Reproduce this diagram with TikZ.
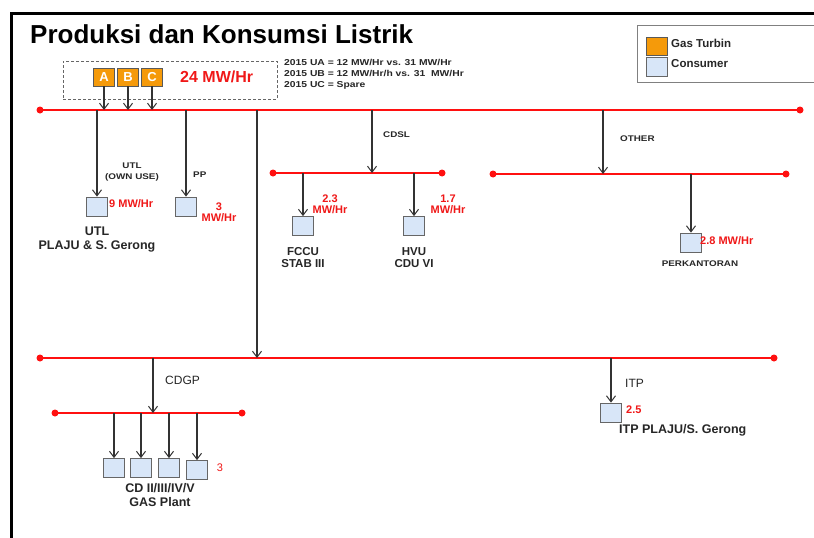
\documentclass[tikz,border=0pt]{standalone}
\usepackage{fontspec}
\setmainfont{Liberation Sans}
\newfontfamily\widesans[FakeStretch=1.2]{Liberation Sans}
\usetikzlibrary{arrows.meta}
\definecolor{busred}{HTML}{FF1010}
\definecolor{lblred}{HTML}{F01818}
\definecolor{consfill}{HTML}{D8E6F8}
\definecolor{gtfill}{HTML}{F59A0A}
\definecolor{linegray}{HTML}{333333}
\newcommand{\myfs}[2]{\fontsize{#1}{#2}\selectfont}
\begin{document}
\begin{tikzpicture}[x=1pt,y=-1pt,
  bus/.style={busred, line width=2pt},
  busdot/.style={circle, fill=busred, inner sep=0pt, minimum size=7pt},
  feed/.style={linegray, line width=1.2pt, -{Straight Barb[length=6pt,width=9pt,line width=1pt]}},
  cons/.style={draw=black!60, fill=consfill, line width=0.8pt, minimum width=21pt, minimum height=19pt, inner sep=0pt},
  gt/.style={draw=black!65, fill=gtfill, line width=0.8pt, minimum width=21pt, minimum height=18pt, inner sep=0pt, text=white, font=\bfseries\myfs{13}{13}},
  lbl/.style={text=black!85, inner sep=0pt},
  small/.style={lbl, font=\widesans\bfseries\myfs{8.2}{11}},
  big/.style={lbl, font=\bfseries\myfs{12.5}{14}, align=center},
  val/.style={text=lblred, font=\bfseries\myfs{11}{11}, inner sep=0pt, align=center},
]
\useasboundingbox (0,0) rectangle (814,538);
\clip (0,0) rectangle (814,538);
\fill[white] (0,0) rectangle (814,538);

% frame
\draw[line width=3pt] (11.5,545) -- (11.5,13.5) -- (830,13.5);

% title
\node[anchor=base west, inner sep=0pt, font=\bfseries\myfs{26}{26}] (title) at (30,43) {Produksi dan Konsumsi Listrik};

% legend
\node[draw=black!50, line width=1pt, minimum width=200pt, minimum height=57pt, inner sep=0pt] (legend) at (737,53.5) {};
\node[gt, minimum height=18pt] (lgt) at (657,46) {};
\node[cons] (lcons) at (657,66.5) {};
\node[lbl, anchor=west, font=\bfseries\myfs{11.5}{11.5}] (lgttxt) at (671,43) {Gas Turbin};
\node[lbl, anchor=west, font=\bfseries\myfs{11.5}{11.5}] (lconstxt) at (671,64) {Consumer};

% gas turbines
\node[draw=black!60, dashed, dash pattern=on 3pt off 2pt, line width=0.9pt, minimum width=214pt, minimum height=38pt, inner sep=0pt] (gtbox) at (170,80) {};
\node[gt] (A) at (104,77) {A};
\node[gt] (B) at (128,77) {B};
\node[gt] (C) at (152,77) {C};
\node[val, font=\bfseries\myfs{16}{16}, anchor=west] (gtval) at (180,77) {24 MW/Hr};
\node[lbl, anchor=west, align=left, font=\widesans\bfseries\myfs{8.6}{11}] (notes) at (284,74) {2015 UA = 12 MW/Hr vs. 31 MW/Hr\\2015 UB = 12 MW/Hr/h vs. 31\ \ MW/Hr\\2015 UC = Spare};

% bus 1
\node[busdot] (b1w) at (40,110) {};
\node[busdot] (b1e) at (800,110) {};
\draw[bus] (b1w.center) -- (b1e.center);
\draw[feed] (A.south) -- (A |- b1w.center);
\draw[feed] (B.south) -- (B |- b1w.center);
\draw[feed] (C.south) -- (C |- b1w.center);

% UTL and PP
\node[cons] (utl) at (97,206.5) {};
\node[cons] (pp) at (186,206.5) {};
\draw[feed] (utl |- b1w.center) -- (utl.north);
\draw[feed] (pp |- b1w.center) -- (pp.north);
\node[small, align=center] (utltxt) at (132,172.5) {UTL\\(OWN USE)};
\node[small, anchor=west] (pptxt) at (193,175) {PP};
\node[val, anchor=west] (utlval) at (109,204) {9 MW/Hr};
\node[val] (ppval) at (219,212) {3\\MW/Hr};
\node[big] (utlname) at (97,240) {UTL\\PLAJU \& S. Gerong};

% trunk to bus 2
\node[busdot] (b2w) at (40,358) {};
\node[busdot] (b2e) at (774,358) {};
\draw[bus] (b2w.center) -- (b2e.center);
\coordinate (trunk) at (257,110);
\draw[feed] (trunk) -- (trunk |- b2w.center);

% CDSL
\node[busdot] (s1w) at (273,173) {};
\node[busdot] (s1e) at (442,173) {};
\draw[bus] (s1w.center) -- (s1e.center);
\coordinate (cdsl) at (372,110);
\draw[feed] (cdsl) -- (cdsl |- s1w.center);
\node[small, anchor=west] (cdsltxt) at (383,135) {CDSL};
\node[cons] (fccu) at (303,226) {};
\node[cons] (hvu) at (414,226) {};
\draw[feed] (fccu |- s1w.center) -- (fccu.north);
\draw[feed] (hvu |- s1w.center) -- (hvu.north);
\node[val] (fccuval) at (330,204.5) {2.3\\MW/Hr};
\node[val] (hvuval) at (448,204.5) {1.7\\MW/Hr};
\node[lbl, font=\bfseries\myfs{11.5}{11.5}, align=center] (fccutxt) at (303,257.5) {FCCU\\STAB III};
\node[lbl, font=\bfseries\myfs{11.5}{11.5}, align=center] (hvutxt) at (414,257.5) {HVU\\CDU VI};

% OTHER
\node[busdot] (s2w) at (493,174) {};
\node[busdot] (s2e) at (786,174) {};
\draw[bus] (s2w.center) -- (s2e.center);
\coordinate (other) at (603,110);
\draw[feed] (other) -- (other |- s2w.center);
\node[small, anchor=west] (othertxt) at (620,139) {OTHER};
\node[cons] (perk) at (691,242.5) {};
\draw[feed] (perk |- s2w.center) -- (perk.north);
\node[val, anchor=west] (perkval) at (700,241) {2.8 MW/Hr};
\node[small] (perktxt) at (700,264) {PERKANTORAN};

% CDGP
\node[busdot] (s3w) at (55,413) {};
\node[busdot] (s3e) at (242,413) {};
\draw[bus] (s3w.center) -- (s3e.center);
\coordinate (cdgp) at (153,358);
\draw[feed] (cdgp) -- (cdgp |- s3w.center);
\node[lbl, anchor=west, font=\myfs{12}{12}] (cdgptxt) at (165,380) {CDGP};
\node[cons] (g1) at (114,468) {};
\node[cons] (g2) at (141,468) {};
\node[cons] (g3) at (169,468) {};
\node[cons] (g4) at (197,470) {};
\foreach \g in {g1,g2,g3,g4}{
  \draw[feed] (\g |- s3w.center) -- (\g.north);
}
\node[val, font=\myfs{11}{11}] (gval) at (220,468) {3};
\node[big] (gtxt) at (160,495) {CD II/III/IV/V\\GAS Plant};

% ITP
\node[cons] (itpb) at (611,412.5) {};
\draw[feed] (itpb |- b2w.center) -- (itpb.north);
\node[lbl, anchor=west, font=\myfs{12}{12}] (itptxt) at (625,383) {ITP};
\node[val, anchor=west] (itpval) at (626,410) {2.5};
\node[lbl, anchor=west, font=\bfseries\myfs{12.5}{12.5}] (itpname) at (619,430) {ITP PLAJU/S. Gerong};
\end{tikzpicture}
\end{document}
